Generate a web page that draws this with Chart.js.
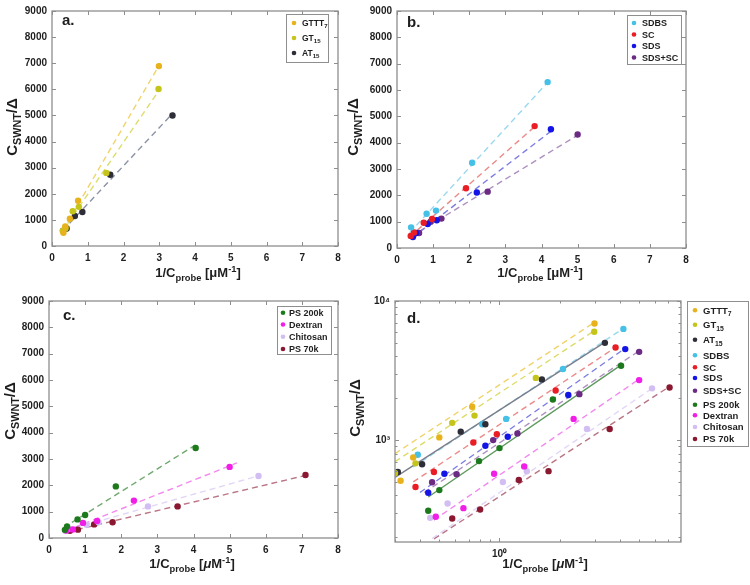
<!DOCTYPE html>
<html>
<head>
<meta charset="utf-8">
<script src="https://cdn.jsdelivr.net/npm/chart.js@4.4.1/dist/chart.umd.min.js"></script>
<style>
  html, body { margin: 0; padding: 0; background: #fff; }
  #wrap { position: relative; width: 750px; height: 585px; overflow: hidden; background: #fff; }
  canvas { position: absolute; }
</style>
</head>
<body>
<div id="wrap">
  <canvas id="pa" width="375" height="290" style="left:0;top:0"></canvas>
  <canvas id="pc" width="375" height="295" style="left:0;top:290px"></canvas>
  <canvas id="pb" width="420" height="290" style="left:330px;top:0"></canvas>
  <canvas id="pd" width="420" height="295" style="left:330px;top:290px"></canvas>
</div>
<script>
const seriesNames = ['GTTT7', 'GT15', 'AT15', 'SDBS', 'SC', 'SDS', 'SDS+SC', 'PS 200k', 'Dextran', 'Chitosan', 'PS 70k'];

// 1/C_probe [uM^-1] vs C_SWNT/Delta
const gttt7X = [0.32, 0.37, 0.50, 0.73, 2.99];
const gttt7Y = [510, 750, 1045, 1735, 6890];
const gt15X = [0.30, 0.38, 0.58, 0.75, 1.52, 2.98];
const gt15Y = [580, 680, 1330, 1500, 2800, 6010];
const at15X = [0.31, 0.41, 0.64, 0.85, 1.63, 3.37];
const at15Y = [590, 670, 1150, 1300, 2730, 5000];
const sdbsX = [0.39, 0.82, 1.08, 2.08, 4.17];
const sdbsY = [785, 1300, 1420, 3240, 6300];
const scX = [0.38, 0.47, 0.74, 0.97, 1.91, 3.81];
const scY = [460, 590, 960, 1100, 2270, 4630];
const sdsX = [0.44, 0.53, 0.85, 1.10, 2.21, 4.26];
const sdsY = [418, 573, 910, 1056, 2110, 4510];
const sdsScX = [0.46, 0.61, 0.93, 1.23, 2.51, 5.0];
const sdsScY = [497, 569, 1000, 1117, 2140, 4310];
const ps200kX = [0.44, 0.50, 0.79, 1.0, 1.85, 4.06];
const ps200kY = [310, 437, 706, 876, 1960, 3420];
const dextranX = [0.48, 0.66, 0.94, 1.33, 2.35, 5.0];
const dextranY = [281, 324, 573, 647, 1420, 2700];
const chitosanX = [0.45, 0.55, 1.04, 1.37, 2.74, 5.8];
const chitosanY = [276, 350, 499, 598, 1200, 2355];
const ps70kX = [0.58, 0.80, 1.25, 1.76, 3.56, 7.1];
const ps70kY = [273, 317, 516, 598, 1200, 2390];

// fitted lines, end points (panels a-c)
const gttt7FitX = [0.30, 3.03],   gttt7FitY = [580, 7000];
const gt15FitX = [0.28, 3.02],    gt15FitY = [545, 6010];
const at15FitX = [0.30, 3.40],    at15FitY = [590, 5115];
const sdbsFitX = [0.35, 4.20],    sdbsFitY = [580, 6335];
const scFitX = [0.35, 3.85],      scFitY = [420, 4655];
const sdsFitX = [0.40, 4.30],     sdsFitY = [370, 4475];
const sdsScFitX = [0.40, 5.02],   sdsScFitY = [445, 4300];
const ps200kFitX = [0.40, 4.05],  ps200kFitY = [390, 3530];
const dextranFitX = [0.45, 5.20], dextranFitY = [260, 2850];
const chitosanFitX = [0.45, 5.85], chitosanFitY = [280, 2380];
const ps70kFitX = [0.50, 7.10],   ps70kFitY = [230, 2375];

// fitted lines on the log-log panel d
const gttt7LogFitX = [0.30, 3.02],   gttt7LogFitY = [800, 7100];
const gt15LogFitX = [0.30, 3.02],    gt15LogFitY = [700, 6185];
const at15LogFitX = [0.30, 3.39],    at15LogFitY = [540, 5090];
const sdbsLogFitX = [0.37, 4.20],    sdbsLogFitY = [640, 6400];
const scLogFitX = [0.37, 3.85],      scLogFitY = [500, 4690];
const sdsLogFitX = [0.40, 4.32],     sdsLogFitY = [420, 4640];
const sdsScLogFitX = [0.42, 5.07],   sdsScLogFitY = [420, 4430];
const ps200kLogFitX = [0.44, 4.07],  ps200kLogFitY = [390, 3470];
const dextranLogFitX = [0.47, 5.07], dextranLogFitY = [266, 2780];
const chitosanLogFitX = [0.46, 5.90], chitosanLogFitY = [196, 2390];
const ps70kLogFitX = [0.47, 7.16],   ps70kLogFitY = [195, 2447];

const linXTicks = [0, 1, 2, 3, 4, 5, 6, 7, 8];
const linYTicks = [0, 1000, 2000, 3000, 4000, 5000, 6000, 7000, 8000, 9000];
const logXTicks = [0.3, 0.4, 0.5, 0.6, 0.7, 0.8, 0.9, 1, 2, 3, 4, 5, 6, 7, 8];
const logYTicks = [200, 300, 400, 500, 600, 700, 800, 900, 1000, 2000, 3000, 4000, 5000, 6000, 7000, 8000, 9000, 10000];
const logTickLabels = { 1: '10\u2070', 1000: '10\u00b3', 10000: '10\u2074' };

const colors = ['#e8b21c', '#c4c41a', '#2e2e38', '#45c0e6', '#ea1c24', '#1414e6',
                '#6b2a84', '#1c7a1c', '#f01ee6', '#d2bef2', '#8a1830'];
const lineColors = ['#f0d46a', '#dcdc6a', '#8c93a8', '#9ad8ee', '#ec8a8a', '#7c7ce4',
                    '#ad8fc0', '#6fa86f', '#f388ee', '#e2d6f7', '#b97585'];

const series = [
  [gttt7X, gttt7Y, gttt7FitX, gttt7FitY, gttt7LogFitX, gttt7LogFitY],
  [gt15X, gt15Y, gt15FitX, gt15FitY, gt15LogFitX, gt15LogFitY],
  [at15X, at15Y, at15FitX, at15FitY, at15LogFitX, at15LogFitY],
  [sdbsX, sdbsY, sdbsFitX, sdbsFitY, sdbsLogFitX, sdbsLogFitY],
  [scX, scY, scFitX, scFitY, scLogFitX, scLogFitY],
  [sdsX, sdsY, sdsFitX, sdsFitY, sdsLogFitX, sdsLogFitY],
  [sdsScX, sdsScY, sdsScFitX, sdsScFitY, sdsScLogFitX, sdsScLogFitY],
  [ps200kX, ps200kY, ps200kFitX, ps200kFitY, ps200kLogFitX, ps200kLogFitY],
  [dextranX, dextranY, dextranFitX, dextranFitY, dextranLogFitX, dextranLogFitY],
  [chitosanX, chitosanY, chitosanFitX, chitosanFitY, chitosanLogFitX, chitosanLogFitY],
  [ps70kX, ps70kY, ps70kFitX, ps70kFitY, ps70kLogFitX, ps70kLogFitY]
];

const FONT = '"Liberation Sans", Arial, Helvetica, sans-serif';
const TEXT = '#1e1e1e';
const EDGE = '#8e8e8e';

const panels = {
  pa: { members: [0, 1, 2], letter: 'a.', letterAt: [62, 25], yTitleAt: [17, 127], xTitleAt: [198, 277], mu: false,
        legend: { box: [286, 14, 42, 48], mx: 294, tx: 302, ys: [23, 38, 53], size: 8.5 },
        area: { yw: 52, xh: 44, top: 8, right: 37 } },
  pb: { members: [3, 4, 5, 6], letter: 'b.', letterAt: [77, 27], yTitleAt: [28, 127], xTitleAt: [210, 277], mu: false,
        legend: { box: [297, 15, 54, 49], mx: 304, tx: 312, ys: [23, 34.5, 46, 57.5], size: 9 },
        area: { yw: 67, xh: 42, top: 9, right: 64 } },
  pc: { members: [7, 8, 9, 10], letter: 'c.', letterAt: [63, 30], yTitleAt: [15, 121], xTitleAt: [192, 278], mu: true,
        legend: { box: [277, 16, 54, 48], mx: 283, tx: 289, ys: [22.7, 34.5, 46.7, 59], size: 9 },
        area: { yw: 49, xh: 47, top: 10, right: 37 } },
  pd: { members: [0, 1, 2, 3, 4, 5, 6, 7, 8, 9, 10], letter: 'd.', letterAt: [77, 33], yTitleAt: [30, 118], xTitleAt: [215, 278], mu: true, log: true,
        legend: { box: [357, 11, 61, 145], mx: 365, tx: 373, ys: [20.3, 34.7, 49.7, 65.3, 77.3, 88, 100.7, 114.7, 125.3, 137, 149], size: 9.5 },
        area: { yw: 65, xh: 43, top: 11, right: 69 } }
};
const solidInLog = [2, 7];

function nameParts(name) {
  const m = name.match(/^([A-Z]+)(\d+)$/);
  return m ? [[m[1], 0], [m[2], 1]] : [[name, 0]];
}

// kinds: 0 normal, 1 subscript, 2 superscript, 3 italic
function drawRich(ctx, parts, x, y, size, align, rotate) {
  const fontOf = k => (k === 3 ? 'italic ' : '') + 'bold ' + ((k === 1 || k === 2) ? size * 0.72 : size) + 'px ' + FONT;
  ctx.save();
  ctx.translate(x, y);
  if (rotate) ctx.rotate(-Math.PI / 2);
  let w = 0;
  parts.forEach(p => { ctx.font = fontOf(p[1]); w += ctx.measureText(p[0]).width; });
  let cx = align === 'center' ? -w / 2 : 0;
  ctx.textAlign = 'left';
  ctx.textBaseline = 'alphabetic';
  ctx.fillStyle = TEXT;
  parts.forEach(p => {
    ctx.font = fontOf(p[1]);
    const dy = p[1] === 1 ? size * 0.28 : p[1] === 2 ? -size * 0.42 : 0;
    ctx.fillText(p[0], cx, dy);
    cx += ctx.measureText(p[0]).width;
  });
  ctx.restore();
}

const yTitleParts = [['C', 0], ['SWNT', 1], ['/\u0394', 0]];
const xTitleParts = mu => [['1/C', 0], ['probe', 1], [' [', 0], ['\u03bc', mu ? 3 : 0], ['M', 0], ['-1', 2], [']', 0]];

const panelBox = {
  id: 'panelBox',
  afterDatasetsDraw(chart) {
    const p = panels[chart.canvas.id];
    const { ctx, chartArea: a } = chart;
    const xs = chart.scales.x, ys = chart.scales.y;
    ctx.save();
    ctx.strokeStyle = EDGE;
    ctx.lineWidth = 1;
    ctx.beginPath();
    xs.ticks.forEach(t => {
      const px = Math.round(xs.getPixelForValue(t.value)) + 0.5;
      const len = p.log && !(t.value in logTickLabels) ? 2.5 : 4;
      ctx.moveTo(px, a.bottom); ctx.lineTo(px, a.bottom - len);
      ctx.moveTo(px, a.top); ctx.lineTo(px, a.top + len);
    });
    ys.ticks.forEach(t => {
      const py = Math.round(ys.getPixelForValue(t.value)) + 0.5;
      const len = p.log && !(t.value in logTickLabels) ? 2.5 : 4;
      ctx.moveTo(a.left, py); ctx.lineTo(a.left + len, py);
      ctx.moveTo(a.right, py); ctx.lineTo(a.right - len, py);
    });
    ctx.stroke();
    ctx.lineWidth = 1.3;
    ctx.strokeRect(a.left, a.top, a.right - a.left, a.bottom - a.top);

    ctx.fillStyle = TEXT;
    ctx.font = 'bold 15px ' + FONT;
    ctx.textAlign = 'left';
    ctx.textBaseline = 'alphabetic';
    ctx.fillText(p.letter, p.letterAt[0], p.letterAt[1]);

    drawRich(ctx, yTitleParts, p.yTitleAt[0], p.yTitleAt[1], 15, 'center', true);
    drawRich(ctx, xTitleParts(p.mu), p.xTitleAt[0], p.xTitleAt[1], 13, 'center', false);

    const L = p.legend;
    ctx.fillStyle = '#fff';
    ctx.fillRect(L.box[0], L.box[1], L.box[2], L.box[3]);
    ctx.strokeStyle = EDGE;
    ctx.lineWidth = 1;
    ctx.strokeRect(L.box[0] + 0.5, L.box[1] + 0.5, L.box[2], L.box[3]);
    p.members.forEach((si, k) => {
      const yy = L.ys[k];
      ctx.fillStyle = colors[si];
      ctx.beginPath();
      ctx.arc(L.mx, yy, 2.3, 0, Math.PI * 2);
      ctx.fill();
      drawRich(ctx, nameParts(seriesNames[si]), L.tx, yy + L.size * 0.36, L.size, 'left', false);
    });
    ctx.restore();
  }
};

function makePanel(id) {
  const p = panels[id];
  const datasets = [];
  p.members.forEach(i => {
    const s = series[i];
    datasets.push({
      data: s[0].map((v, k) => ({ x: v, y: s[1][k] })),
      backgroundColor: colors[i], borderWidth: 0, pointRadius: 3.2,
      showLine: false, order: 0
    });
  });
  p.members.forEach(i => {
    const s = series[i];
    const fx = p.log ? s[4] : s[2], fy = p.log ? s[5] : s[3];
    const solid = p.log && solidInLog.includes(i);
    datasets.push({
      data: fx.map((v, k) => ({ x: v, y: fy[k] })),
      borderColor: solid ? (i === 2 ? '#7a7f8c' : '#5e9a5e') : lineColors[i],
      borderWidth: 1.4, borderDash: solid ? [] : [6, 4],
      pointRadius: 0, showLine: true, fill: false, order: 1
    });
  });
  const tickFont = { family: FONT, weight: 'bold', size: 10 };
  const axisBase = {
    grid: { display: false, drawTicks: false },
    border: { display: false },
    ticks: { font: tickFont, color: TEXT, padding: 5, autoSkip: false, maxRotation: 0 }
  };
  const xAxis = Object.assign({}, axisBase, {
    type: p.log ? 'logarithmic' : 'linear',
    min: p.log ? 0.3 : 0, max: p.log ? 8.1 : 8,
    afterBuildTicks: sc => { sc.ticks = (p.log ? logXTicks : linXTicks).map(v => ({ value: v })); },
    afterFit: sc => { sc.height = p.area.xh; },
    ticks: Object.assign({}, axisBase.ticks, { padding: 6, callback: v => p.log ? (logTickLabels[v] || '') : String(v) })
  });
  const yAxis = Object.assign({}, axisBase, {
    type: p.log ? 'logarithmic' : 'linear',
    min: p.log ? 185 : 0, max: p.log ? 10000 : 9000,
    afterBuildTicks: sc => { sc.ticks = (p.log ? logYTicks : linYTicks).map(v => ({ value: v })); },
    afterFit: sc => { sc.width = p.area.yw; },
    ticks: Object.assign({}, axisBase.ticks, { callback: v => p.log ? (logTickLabels[v] || '') : String(v) })
  });
  return new Chart(document.getElementById(id), {
    type: 'scatter',
    data: { datasets },
    options: {
      responsive: false,
      animation: false,
      events: [],
      layout: { padding: { left: 0, top: p.area.top, right: p.area.right, bottom: 0 } },
      scales: { x: xAxis, y: yAxis },
      plugins: { legend: { display: false }, tooltip: { enabled: false }, title: { display: false } }
    },
    plugins: [panelBox]
  });
}

['pa', 'pb', 'pc', 'pd'].forEach(makePanel);
</script>
</body>
</html>
